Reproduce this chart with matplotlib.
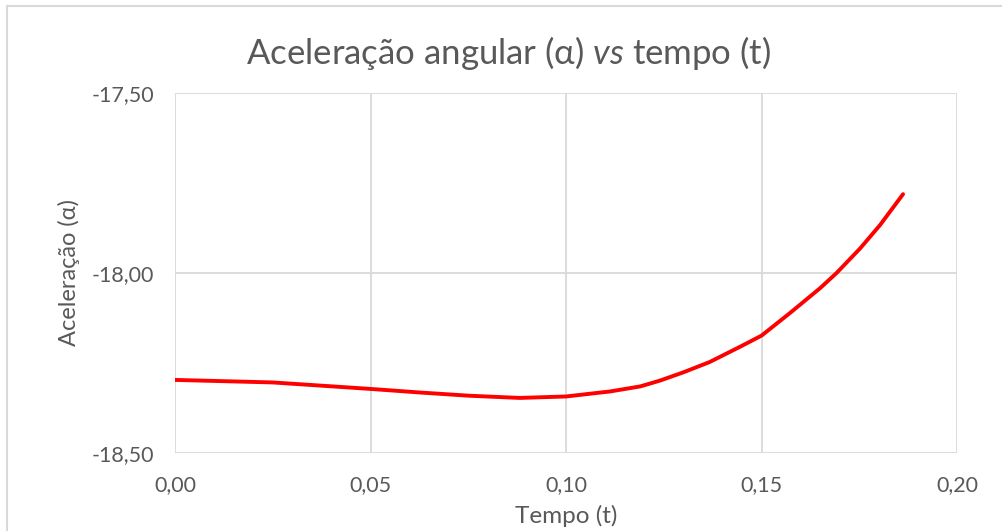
import matplotlib.pyplot as plt
from matplotlib.lines import Line2D
from matplotlib.ticker import FuncFormatter

# data
tempo = [0.0, 0.025, 0.05, 0.0627, 0.0754, 0.0882, 0.10, 0.1113, 0.119, 0.124,
         0.130, 0.1368, 0.1445, 0.15, 0.1573, 0.165, 0.1692, 0.1752, 0.1803, 0.1862]
aceleracao = [-18.297, -18.304, -18.322, -18.332, -18.341, -18.347, -18.343, -18.329, -18.315, -18.299,
              -18.276, -18.247, -18.205, -18.174, -18.111, -18.042, -18.000, -17.932, -17.867, -17.781]

x_ticks = [0.0, 0.05, 0.10, 0.15, 0.20]
y_ticks = [-18.5, -18.0, -17.5]

plt.rcParams['font.family'] = ['Lato', 'DejaVu Sans']
plt.rcParams['mathtext.fontset'] = 'custom'
plt.rcParams['mathtext.it'] = 'Lato:italic'
plt.rcParams['mathtext.rm'] = 'Lato'
text_color = '#595959'
grid_color = '#d9d9d9'

fig = plt.figure(figsize=(10.02, 5.31), dpi=100)
ax = fig.add_axes([175 / 1002, 1 - 453 / 531, (957 - 175) / 1002, (453 - 93) / 531])

ax.plot(tempo, aceleracao, color='#ff0000', lw=2.8, solid_capstyle='round', solid_joinstyle='round')

ax.set_xlim(0, 0.20)
ax.set_ylim(-18.5, -17.5)
ax.set_xticks(x_ticks)
ax.set_yticks(y_ticks)
fmt = FuncFormatter(lambda v, p: f"{v:.2f}".replace('.', ','))
ax.xaxis.set_major_formatter(fmt)
ax.yaxis.set_major_formatter(fmt)
ax.tick_params(length=0, labelsize=15.5, colors=text_color)
ax.tick_params(axis='x', pad=16)
ax.tick_params(axis='y', pad=15)
ax.grid(True, color=grid_color, lw=1.3)
ax.set_axisbelow(True)
for s in ax.spines.values():
    s.set_visible(False)

ax.set_xlabel('Tempo (t)', fontsize=17.5, color=text_color, labelpad=7)
ax.set_ylabel('Aceleração (α)', fontsize=17, color=text_color, labelpad=8)

# title with italic "vs"
fig.text(0.5 + 7 / 1002, 1 - 53 / 531, r'Aceleração angular (α) $\it{vs}$ tempo (t)',
         ha='center', va='center', fontsize=25, color=text_color)

# chart area border (left and top only visible)
fig.add_artist(Line2D([7 / 1002, 7 / 1002], [0, 1 - 6 / 531], color=grid_color, lw=1.5,
                      transform=fig.transFigure))
fig.add_artist(Line2D([7 / 1002, 1], [1 - 6 / 531, 1 - 6 / 531], color=grid_color, lw=1.5,
                      transform=fig.transFigure))

fig.savefig('out.png', dpi=100)
